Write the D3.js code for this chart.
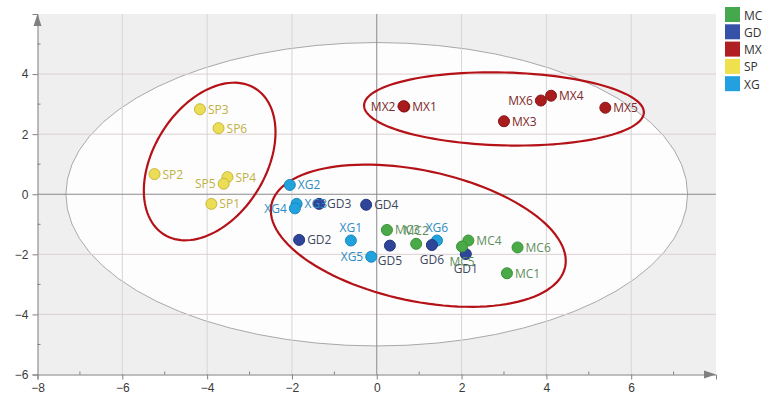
<!DOCTYPE html>
<html><head><meta charset="utf-8">
<script src="https://cdn.jsdelivr.net/npm/d3@7"></script>
<style>body{margin:0;background:#fff}svg{display:block;font-family:"Open Sans","Noto Sans",sans-serif}</style>
</head><body><svg id="c" width="772" height="397"></svg>
<script>
// ---- data ----
const groups = ["MC","GD","MX","SP","XG"];
const MC = [["MC1",3.07,-2.63],["MC2",0.93,-1.65],["MC3",0.24,-1.19],["MC4",2.16,-1.54],["MC5",2.01,-1.74],["MC6",3.32,-1.77]];
const GD = [["GD1",2.10,-1.99],["GD2",-1.83,-1.52],["GD3",-1.36,-0.32],["GD4",-0.25,-0.35],["GD5",0.31,-1.71],["GD6",1.30,-1.69]];
const MX = [["MX1",0.65,2.92],["MX2",0.63,2.93],["MX3",3.00,2.43],["MX4",4.11,3.28],["MX5",5.39,2.88],["MX6",3.87,3.12]];
const SP = [["SP1",-3.90,-0.32],["SP2",-5.24,0.67],["SP3",-4.17,2.83],["SP4",-3.52,0.57],["SP5",-3.61,0.35],["SP6",-3.73,2.20]];
const XG = [["XG1",-0.61,-1.54],["XG2",-2.05,0.31],["XG3",-1.89,-0.32],["XG4",-1.93,-0.47],["XG5",-0.13,-2.08],["XG6",1.42,-1.54]];
const xTicks = [-8,-6,-4,-2,0,2,4,6];
const yTicks = [-6,-4,-2,0,2,4];
const xDomain = [-8,8], yDomain = [-6,6];
// Hotelling T2 ellipse semi-axes (data units)
const t2 = [7.33, 5.05];
// group ellipses: [cx, cy, semi-major, semi-minor (x-units), angle deg]
const groupEllipses = [[-3.94,1.09,2.03,1.32,-58],[3.0,2.84,3.30,0.86,1.5],[0.98,-1.38,3.54,1.54,12]];
// label placement
const labelPos = {SP5:"l",MX2:"l",MX6:"l",XG4:"l",XG5:"l",XG1:"a",XG6:"a",MC2:"a",GD5:"b",GD6:"b",GD1:"b",MC5:"b"};

const fill = {MC:"#4aaa48",GD:"#2f4599",MX:"#a81c1e",SP:"#ebdd55",XG:"#22a2dc"};
const stroke = {MC:"#3a9038",GD:"#233580",MX:"#8a1416",SP:"#c9b73a",XG:"#1b88bb"};
const labCol = {MC:"#5f8f5c",GD:"#3e4860",MX:"#7e2a2a",SP:"#c2b045",XG:"#2f8cc0"};
const legCol = {MC:"#46a84d",GD:"#3652a8",MX:"#b01f22",SP:"#efe04e",XG:"#22a0e0"};

const svg = d3.select("#c");
const x = d3.scaleLinear(xDomain,[37.5,716]);
const y = d3.scaleLinear(yDomain,[374.5,14]);

// background
svg.append("rect").attr("x",x(-8)).attr("y",y(6)).attr("width",x(8)-x(-8)).attr("height",y(-6)-y(6)).attr("fill","#efefef");
svg.append("ellipse").attr("cx",x(0)).attr("cy",y(0)).attr("rx",x(t2[0])-x(0)).attr("ry",y(0)-y(t2[1]))
  .attr("fill","#fdfdfd").attr("stroke","#a8a8a8").attr("stroke-width",1);

// grid
const g = svg.append("g");
xTicks.filter(v=>v!==-8 && v!==0).forEach(v=>g.append("line").attr("x1",x(v)).attr("x2",x(v)).attr("y1",y(6)).attr("y2",y(-6)).attr("stroke","#d6d6d6"));
yTicks.filter(v=>v!==-6 && v!==0).forEach(v=>g.append("line").attr("y1",y(v)).attr("y2",y(v)).attr("x1",x(-8)).attr("x2",x(8)).attr("stroke","#dccfd0"));
g.append("line").attr("x1",x(0)).attr("x2",x(0)).attr("y1",y(6)).attr("y2",y(-6)).attr("stroke","#8a8a8a");
g.append("line").attr("y1",y(0)).attr("y2",y(0)).attr("x1",x(-8)).attr("x2",x(8)).attr("stroke","#8a8a8a");

// axes
const xa = svg.append("g").attr("transform",`translate(0,${y(-6)})`)
  .call(d3.axisBottom(x).tickValues(xTicks).tickSize(5).tickPadding(4).tickFormat(d3.format("d")));
const ya = svg.append("g").attr("transform",`translate(${x(-8)},0)`)
  .call(d3.axisLeft(y).tickValues(yTicks).tickSize(5).tickPadding(4).tickFormat(d3.format("d")));
[xa,ya].forEach(a=>{a.select(".domain").attr("stroke","#808080");a.selectAll(".tick line").attr("stroke","#808080");
  a.selectAll("text").attr("fill","#3a3a3a").style("font-size","12px");});
// minor ticks
d3.range(-7,8,2).forEach(v=>svg.append("line").attr("x1",x(v)).attr("x2",x(v)).attr("y1",y(-6)).attr("y2",y(-6)-3).attr("stroke","#808080"));
d3.range(-5,6,2).forEach(v=>svg.append("line").attr("y1",y(v)).attr("y2",y(v)).attr("x1",x(-8)).attr("x2",x(-8)+3).attr("stroke","#808080"));
// arrows
svg.append("path").attr("d",`M${x(8)},${y(-6)} l-12,-4 l0,8 z`).attr("fill","#808080");
svg.append("path").attr("d",`M${x(-8)},${y(6)} l-4,12 l8,0 z`).attr("fill","#808080");

// group ellipses
const kx = x(1)-x(0);
groupEllipses.forEach(([cx,cy,a,b,ang])=>{
  const phi = ang*Math.PI/180, A=a*kx, B=b*kx, X0=x(cx), Y0=y(cy);
  const pts = d3.range(0,361,3).map(t=>{const r=t*Math.PI/180;
    return [X0+A*Math.cos(r)*Math.cos(phi)-B*Math.sin(r)*Math.sin(phi), Y0+A*Math.cos(r)*Math.sin(phi)+B*Math.sin(r)*Math.cos(phi)];});
  svg.append("path").attr("d",d3.line().curve(d3.curveLinearClosed)(pts)).attr("fill","none").attr("stroke","#b51218").attr("stroke-width",2.2);
});

// points
const data = {MC,GD,MX,SP,XG};
const drawOrder = ["SP","MX","XG","GD","MC"];
drawOrder.forEach(k=>{
  data[k].forEach(([name,vx,vy])=>{
    svg.append("circle").attr("cx",x(vx)).attr("cy",y(vy)).attr("r",5.5)
      .attr("fill",fill[k]).attr("stroke",stroke[k]).attr("stroke-width",1);
  });
});
drawOrder.forEach(k=>{
  data[k].forEach(([name,vx,vy])=>{
    const p = labelPos[name]||"r";
    const t = svg.append("text").text(name).attr("fill",labCol[k]).style("font-size","12px");
    if(p==="r") t.attr("x",x(vx)+8).attr("y",y(vy)+4.5);
    else if(p==="l") t.attr("x",x(vx)-8).attr("y",y(vy)+4.5).attr("text-anchor","end");
    else if(p==="a") t.attr("x",x(vx)).attr("y",y(vy)-9).attr("text-anchor","middle");
    else t.attr("x",x(vx)).attr("y",y(vy)+19).attr("text-anchor","middle");
  });
});

// legend
groups.forEach((k,i)=>{
  svg.append("rect").attr("x",725).attr("y",7+i*17.3).attr("width",15).attr("height",15).attr("fill",legCol[k]);
  svg.append("text").attr("x",744).attr("y",19.5+i*17.3).text(k).attr("fill","#333").style("font-size","12px");
});
</script></body></html>
